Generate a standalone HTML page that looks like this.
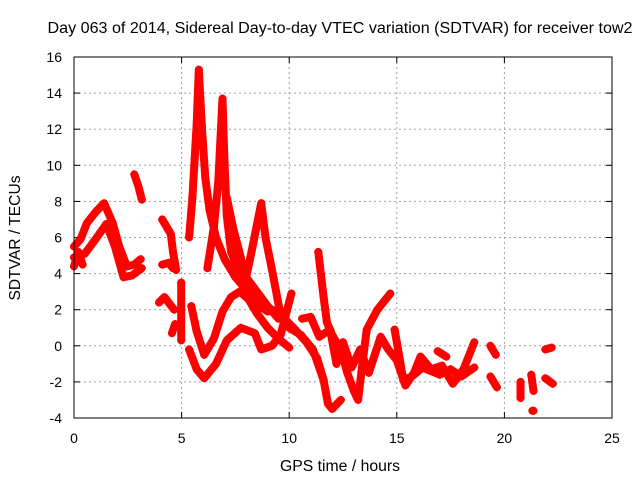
<!DOCTYPE html>
<html><head><meta charset="utf-8"><style>
body{margin:0;background:#fff;}
svg{display:block;font-family:"Liberation Sans",sans-serif;}
</style></head><body>
<svg id="chart" width="640" height="480" viewBox="0 0 640 480">
<rect width="640" height="480" fill="#fff"/>
<text x="340" y="33" text-anchor="middle" font-size="15.5" textLength="585" lengthAdjust="spacingAndGlyphs">Day 063 of 2014, Sidereal Day-to-day VTEC variation (SDTVAR) for receiver tow2</text>
<text x="340" y="471" text-anchor="middle" font-size="15.5" textLength="120" lengthAdjust="spacingAndGlyphs">GPS time / hours</text>
<text x="0" y="0" transform="translate(20,238) rotate(-90)" text-anchor="middle" font-size="15.5" textLength="125" lengthAdjust="spacingAndGlyphs">SDTVAR / TECUs</text>
<g id="grid"></g>
<g id="ticks"></g>
<g id="series"></g>
<rect x="74" y="57" width="538" height="361" fill="none" stroke="#000" stroke-width="1"/>
</svg>
<script>
const xTicks = [0,5,10,15,20,25];
const yTicks = [-4,-2,0,2,4,6,8,10,12,14,16];
const traceA = [[0,5.5],[0.3,5.9],[0.6,6.8],[1.0,7.4],[1.4,7.9],[1.8,6.8],[2.1,5.5],[2.46,4.4],[2.8,4.5],[3.1,4.8]];
const traceB = [[0,4.9],[0.5,5.1],[1.0,5.9],[1.5,6.75],[1.9,5.5],[2.3,3.8],[2.7,3.9],[3.15,4.3]];
const traceC = [[0,4.4],[0.2,5.2],[0.4,4.5]];
const traceD = [[2.8,9.5],[3.0,8.8],[3.15,8.1]];
const traceE = [[4.1,7.0],[4.5,6.2],[4.6,5.2],[4.75,4.2]];
const traceF = [[4.1,4.5],[4.4,4.6],[4.6,4.3]];
const traceG = [[3.95,2.4],[4.2,2.7],[4.65,2.0]];
const traceH = [[4.55,0.7],[4.7,1.2]];
const traceI = [[5.35,6.0],[5.5,8.2],[5.7,12.3],[5.8,15.3],[5.95,12.0],[6.1,9.3],[6.3,7.5],[6.6,6.0],[7.0,4.8],[7.5,3.8],[8.0,3.1],[8.6,2.4],[9.2,2.0],[9.6,1.7],[10.2,1.0],[10.8,0.2],[11.3,-0.7],[11.6,-1.9],[11.8,-3.2],[12.0,-3.5],[12.4,-3.0]];
const traceJ = [[5.45,2.2],[5.7,0.8],[6.05,-0.5],[6.5,0.4],[6.9,1.9],[7.3,2.7],[7.7,3.0],[8.1,2.6],[8.5,1.8],[9.0,1.0],[9.5,0.4],[10.0,-0.1]];
const traceK = [[6.2,4.3],[6.5,6.6],[6.7,9.0],[6.9,13.7],[7.0,10.0],[7.1,7.2],[7.3,5.2],[7.6,4.3],[8.0,3.8],[8.5,3.0],[9.0,2.2],[9.5,1.5]];
const traceL = [[5.35,-0.2],[5.7,-1.3],[6.05,-1.8],[6.6,-1.0],[7.1,0.3],[7.75,1.0],[8.4,0.7],[8.7,-0.2],[9.2,0.0],[9.6,0.6],[10.1,2.9]];
const traceM = [[7.1,8.2],[7.4,6.5],[7.75,4.9],[8.05,3.0],[8.5,2.3],[9.0,1.9]];
const traceN = [[8.0,3.8],[8.3,5.5],[8.7,7.9],[8.9,6.0],[9.2,4.2],[9.6,1.7],[10.0,1.0],[10.55,0.6],[11.1,-0.2],[11.6,-1.9]];
const traceO = [[11.35,5.2],[11.6,2.7],[11.75,1.3],[12.0,0.6],[12.4,-0.2],[12.7,-1.5],[13.0,-2.5],[13.2,-3.0],[13.4,-1.0],[13.6,0.9],[14.1,2.0],[14.7,2.9]];
const traceP = [[10.6,1.5],[11.0,1.6],[11.4,0.5],[11.9,0.9],[12.2,-1.0],[12.5,0.2],[12.9,-1.2],[13.3,-0.2],[13.7,-1.5],[14.25,0.5],[14.6,-0.2],[15.0,-0.8],[15.4,-2.2],[15.8,-1.5],[16.1,-0.6],[16.6,-1.3],[17.1,-1.1],[17.6,-2.1],[18.1,-1.3],[18.6,0.2]];
const traceQ = [[14.9,0.9],[15.1,-0.5],[15.3,-1.9],[15.7,-1.7],[16.2,-1.2],[17.0,-1.6],[17.5,-1.3],[18.0,-1.7],[18.6,-1.2]];
const traceR = [[16.9,-0.3],[17.3,-0.6]];
const traceS = [[19.35,0.0],[19.6,-0.5]];
const traceT = [[19.35,-1.7],[19.65,-2.3]];
const traceU = [[20.75,-2.0],[20.75,-2.9]];
const traceV = [[21.25,-1.6],[21.35,-2.5]];
const traceW = [[21.3,-3.6],[21.35,-3.6]];
const traceX = [[21.9,-0.2],[22.2,-0.1]];
const traceY = [[21.9,-1.8],[22.25,-2.1]];
const traceZ = [[4.98,3.5],[4.98,2.0],[4.98,1.4],[4.98,0.3]];
const traces = [traceA,traceB,traceC,traceD,traceE,traceF,traceG,traceH,traceI,traceJ,traceK,traceL,traceM,traceN,traceO,traceP,traceQ,traceR,traceS,traceT,traceU,traceV,traceW,traceX,traceY,traceZ];

const X0=74,X1=612,Y0=418,Y1=57;
const xs = v => X0 + (v-0)/(25-0)*(X1-X0);
const ys = v => Y0 - (v+4)/(16+4)*(Y0-Y1);
const NS="http://www.w3.org/2000/svg";
const grid=document.getElementById('grid'), ticks=document.getElementById('ticks'), ser=document.getElementById('series');
function mk(tag, attrs, parent){const e=document.createElementNS(NS,tag);for(const k in attrs)e.setAttribute(k,attrs[k]);parent.appendChild(e);return e;}
xTicks.forEach(t=>{
  const x=xs(t);
  if(t>0&&t<25){const g=mk('line',{x1:x,x2:x,y1:Y1,y2:Y0,stroke:'#a0a0a0','stroke-dasharray':'2,3'},grid);
  
  }
  mk('line',{x1:x,x2:x,y1:Y0,y2:Y0-6,stroke:'#000'},ticks);
  mk('line',{x1:x,x2:x,y1:Y1,y2:Y1+6,stroke:'#000'},ticks);
  const l=mk('text',{x:x,y:443,'text-anchor':'middle','font-size':'14'},ticks);l.textContent=t;
  
  
});
yTicks.forEach(t=>{
  const y=ys(t);
  if(t>-4&&t<16){const g=mk('line',{x1:X0,x2:X1,y1:y,y2:y,stroke:'#a0a0a0','stroke-dasharray':'2,3'},grid);
  
  }
  mk('line',{x1:X0,x2:X0+6,y1:y,y2:y,stroke:'#000'},ticks);
  mk('line',{x1:X1,x2:X1-6,y1:y,y2:y,stroke:'#000'},ticks);
  const l=mk('text',{x:62,y:y+5,'text-anchor':'end','font-size':'14'},ticks);l.textContent=t;
  
  
});
traces.forEach(tr=>{
  const pts=tr.map(p=>xs(p[0]).toFixed(1)+','+ys(p[1]).toFixed(1)).join(' ');
  const pl=mk('polyline',{points:pts,fill:'none',stroke:'#ff0000','stroke-width':'8','stroke-linejoin':'round','stroke-linecap':'round'},ser);
  
  
  tr.forEach(p=>{
    const x=xs(p[0]),y=ys(p[1]);
    const m=mk('path',{d:`M${x-4},${y}H${x+4}M${x},${y-4}V${y+4}`,stroke:'#ff0000','stroke-width':'1.5'},ser);
    
    
  });
});
</script>
</body></html>
